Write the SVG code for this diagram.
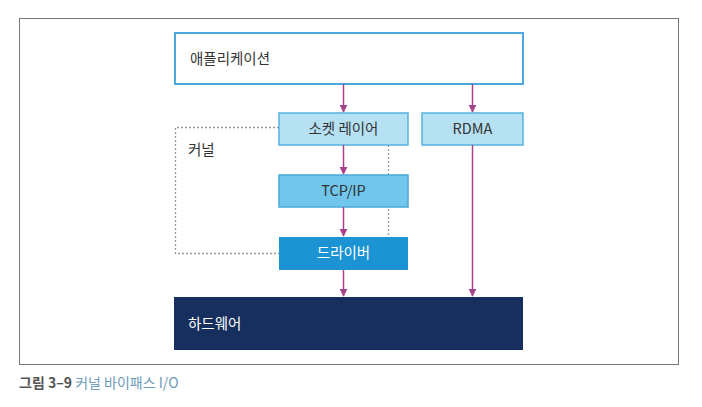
<svg xmlns="http://www.w3.org/2000/svg" width="702" height="407" viewBox="0 0 702 407">
<style>
text{font-family:"Noto Sans CJK KR","Noto Sans",sans-serif;font-size:14.5px;fill:#333}
.c{text-anchor:middle}
.ar{stroke:#a8408a;stroke-width:1.5;fill:none;marker-end:url(#ah)}
</style>
<defs>
<marker id="ah" viewBox="0 0 10 10" refX="9" refY="5" markerWidth="8" markerHeight="9" markerUnits="userSpaceOnUse" orient="auto">
<path d="M0,0L10,5L0,10z" fill="#a8408a"/>
</marker>
</defs>
<rect x="19.5" y="18.5" width="659" height="346" fill="#fff" stroke="#777" stroke-width="1"/>
<g id="kernel">
<path d="M279,127.5H175.5V253.5H279M388.5,145V237" fill="none" stroke="#999" stroke-width="1.3" stroke-dasharray="2,2"/>
<text x="188" y="155">커널</text>
</g>
<g id="app">
<rect x="175" y="33" width="348" height="51" fill="#fff" stroke="#4aa8dc" stroke-width="2"/>
<text x="190" y="64">애플리케이션</text>
</g>
<g id="socket">
<rect x="279" y="113" width="129" height="32" fill="#b5e1f3" stroke="#55b3de" stroke-width="1.5"/>
<text class="c" x="343.5" y="134">소켓 레이어</text>
</g>
<g id="rdma">
<rect x="422" y="113" width="101" height="32" fill="#b5e1f3" stroke="#55b3de" stroke-width="1.5"/>
<text class="c" x="472.5" y="134">RDMA</text>
</g>
<g id="tcpip">
<rect x="279" y="175" width="129" height="32" fill="#70c6eb" stroke="#4aa8dc" stroke-width="1.5"/>
<text class="c" x="343.5" y="196">TCP/IP</text>
</g>
<g id="driver">
<rect x="279" y="237" width="129" height="33" fill="#1c93d2"/>
<text class="c" x="343.5" y="258" style="fill:#fff">드라이버</text>
</g>
<g id="hardware">
<rect x="174" y="297" width="349" height="53" fill="#172f5e"/>
<text x="188" y="329" style="fill:#fff">하드웨어</text>
</g>
<g id="connectors">
<line class="ar" x1="343.5" y1="84" x2="343.5" y2="112"/>
<line class="ar" x1="472.5" y1="84" x2="472.5" y2="112"/>
<line class="ar" x1="343.5" y1="145" x2="343.5" y2="174"/>
<line class="ar" x1="343.5" y1="207" x2="343.5" y2="236"/>
<line class="ar" x1="343.5" y1="270" x2="343.5" y2="296"/>
<line class="ar" x1="472.5" y1="145" x2="472.5" y2="296"/>
</g>
<text x="19" y="388" style="font-size:14px"><tspan style="font-weight:bold;fill:#555">그림 3–9</tspan><tspan style="fill:#6d9bb8"> 커널 바이패스 I/O</tspan></text>
</svg>
